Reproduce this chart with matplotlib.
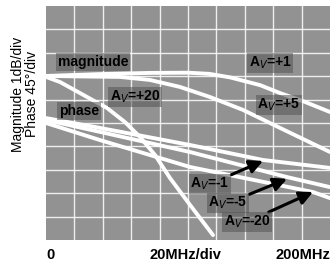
import matplotlib
matplotlib.use("Agg")
import matplotlib.pyplot as plt

# ---- Data (x in MHz, y in grid divisions, 0 = bottom) ----
mag_p1_x = [0, 38.0, 73.2, 100.0, 115.0, 129.6, 150.7, 164.8, 182.4, 200]
mag_p1_y = [7.01, 7.09, 7.14, 7.15, 7.10, 6.95, 6.62, 6.28, 5.90, 5.47]

mag_p5_x = [0, 52.1, 73.2, 94.4, 115.5, 138.7, 164.8, 200]
mag_p5_y = [7.01, 6.97, 6.84, 6.54, 6.11, 5.56, 4.79, 3.76]

mag_p20_x = [0, 9.9, 23.9, 43.0, 55.6, 66.2, 76.8, 87.3, 101.4, 117.6]
mag_p20_y = [6.97, 6.75, 6.28, 5.64, 5.04, 4.40, 3.63, 2.65, 1.50, 0.21]

phase_x_m1 = [0, 38.0, 101.4, 152.8, 200]
phase_y_m1 = [5.21, 4.79, 4.06, 3.42, 3.08]

phase_x_m5 = [0, 38.0, 101.4, 169.7, 200]
phase_y_m5 = [5.13, 4.62, 3.76, 2.69, 2.26]

phase_x_m20 = [0, 38.0, 101.4, 188.0, 200]
phase_y_m20 = [5.0, 4.27, 3.12, 2.05, 1.79]

x_ticks = [0, 98, 200]
x_tick_labels = ["0", "20MHz/div", "200MHz"]

fig = plt.figure(figsize=(3.32, 2.64), dpi=100)
ax = fig.add_axes([46 / 332, 24 / 264, 284 / 332, 234 / 264])
ax.set_facecolor("#929292")
ax.set_xlim(0, 200)
ax.set_ylim(0, 10)

# white grid, 10 x 10 divisions
for gx in range(20, 200, 20):
    ax.axvline(gx, color="white", lw=1.0, alpha=0.85, zorder=1)
for gy in range(1, 10):
    ax.axhline(gy, color="white", lw=1.0, alpha=0.85, zorder=1)
for s in ax.spines.values():
    s.set_visible(False)

curve_kw = dict(color="white", lw=2.8, solid_capstyle="round", zorder=3)
for xs, ys in [(mag_p1_x, mag_p1_y), (mag_p5_x, mag_p5_y), (mag_p20_x, mag_p20_y),
               (phase_x_m1, phase_y_m1), (phase_x_m5, phase_y_m5),
               (phase_x_m20, phase_y_m20)]:
    ax.plot(xs, ys, **curve_kw)

# labels on the plot
box = dict(boxstyle="square,pad=0.12", fc="#555555", ec="none", alpha=0.55)
txt_kw = dict(color="black", fontsize=10, fontweight="bold", ha="center",
              va="center", family="Liberation Sans", zorder=5)
ax.text(33.1, 7.61, "magnitude", bbox=box, **txt_kw)
ax.text(23.2, 5.51, "phase", bbox=box, **txt_kw)
ax.text(62.7, 6.11, "A$_V$=+20", bbox=box, **txt_kw)
ax.text(157.7, 7.56, "A$_V$=+1", bbox=box, **txt_kw)
ax.text(164.0, 5.77, "A$_V$=+5", bbox=box, **txt_kw)

arrow_kw = dict(arrowstyle="-|>,head_length=0.8,head_width=0.4", color="black", lw=2.2,
                shrinkA=0, shrinkB=0)
ax.annotate("A$_V$=-1", xy=(152.8, 3.38), xytext=(115.5, 2.39), arrowprops=arrow_kw,
            bbox=box, **txt_kw)
ax.annotate("A$_V$=-5", xy=(169.7, 2.61), xytext=(128.2, 1.58), arrowprops=arrow_kw,
            bbox=box, **txt_kw)
ax.annotate("A$_V$=-20", xy=(188.0, 2.05), xytext=(141.5, 0.77), arrowprops=arrow_kw,
            bbox=box, **txt_kw)

ax.set_yticks([])
ax.set_xticks(x_ticks)
ax.set_xticklabels(x_tick_labels, fontsize=10.5, fontweight="bold", family="Liberation Sans")
ax.tick_params(axis="x", length=0, pad=6)
labels = ax.get_xticklabels()
labels[0].set_ha("left")
labels[2].set_ha("right")

fig.text(25 / 332, 1 - 94 / 264, "Magnitude 1dB/div\nPhase 45°/div", rotation=90,
         ha="center", va="center", multialignment="center", fontsize=10,
         family="Liberation Sans", linespacing=1.0)

fig.savefig("out.png", dpi=100, facecolor="white")
